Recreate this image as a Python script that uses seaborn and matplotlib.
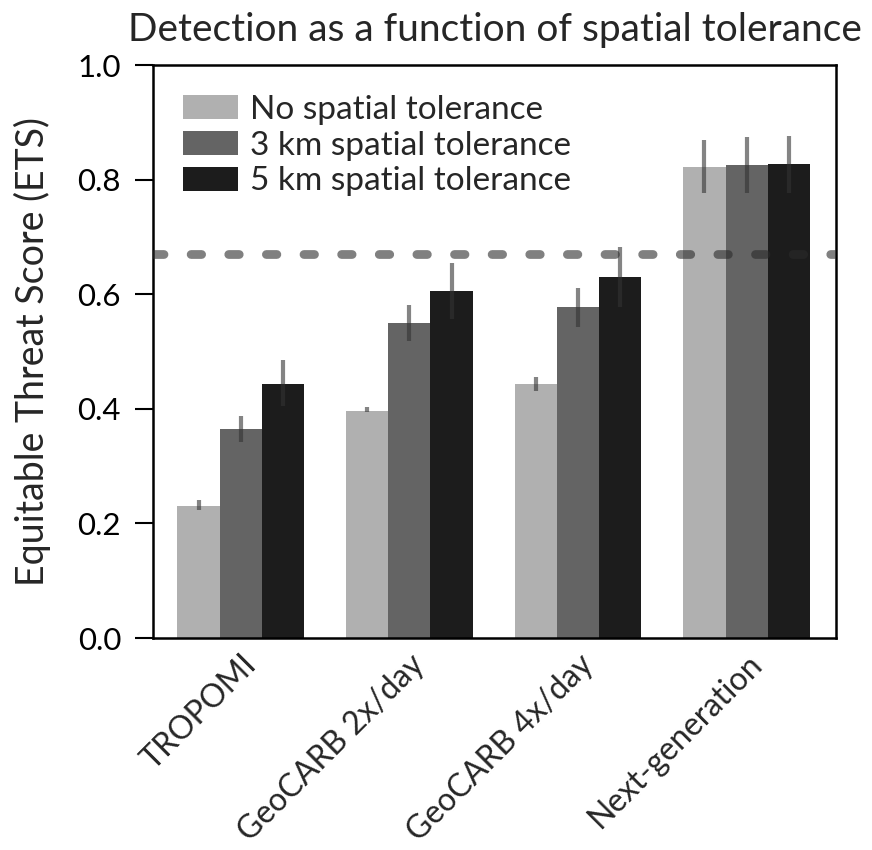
import numpy as np
import pandas as pd
import matplotlib
matplotlib.use("Agg")
import matplotlib.pyplot as plt
import seaborn as sns

# Dados
missions = ["TROPOMI", "GeoCARB 2x/day", "GeoCARB 4x/day", "Next-generation"]
tolerances = ["No spatial tolerance", "3 km spatial tolerance", "5 km spatial tolerance"]

ets_none = [0.230, 0.397, 0.443, 0.822]
ets_3km = [0.364, 0.550, 0.578, 0.825]
ets_5km = [0.444, 0.605, 0.630, 0.828]

lo_none = [0.223, 0.394, 0.431, 0.777]
hi_none = [0.240, 0.403, 0.455, 0.870]
lo_3km = [0.342, 0.519, 0.543, 0.777]
hi_3km = [0.388, 0.581, 0.611, 0.874]
lo_5km = [0.405, 0.557, 0.578, 0.777]
hi_5km = [0.485, 0.655, 0.682, 0.876]

threshold = 0.670

colors = ["#b0b0b0", "#646464", "#1c1c1c"]

sns.set_theme(style="ticks")
plt.rcParams['font.family'] = ['Lato', 'DejaVu Sans']

df = pd.DataFrame({
    "mission": missions * 3,
    "tolerance": [t for t in tolerances for _ in missions],
    "ets": ets_none + ets_3km + ets_5km,
    "lo": lo_none + lo_3km + lo_5km,
    "hi": hi_none + hi_3km + hi_5km,
})

fig = plt.figure(figsize=(8.72, 8.5), dpi=100)
ax = fig.add_axes([0.1755, 0.2494, 0.7832, 0.6741])

sns.barplot(data=df, x="mission", y="ets", hue="tolerance", order=missions,
            hue_order=tolerances, palette=colors, errorbar=None, width=0.75,
            saturation=1, linewidth=0, ax=ax)

# Barras de erro (intervalos) centradas em cada barra
for i, tol in enumerate(tolerances):
    cont = ax.containers[i]
    sub = df[df["tolerance"] == tol].set_index("mission").loc[missions]
    xs = [p.get_x() + p.get_width() / 2 for p in cont.patches]
    ax.vlines(xs, sub["lo"].values, sub["hi"].values, colors="#333333",
              alpha=0.6, linewidth=3.0, zorder=3)

# Linha tracejada de referência
ax.axhline(threshold, color="#2b2b2b", linewidth=6.3, linestyle=(0, (1.2, 3.1)),
           dash_capstyle="round", alpha=0.6, zorder=4)

ax.set_ylim(0, 1.0)
ax.set_xlim(-0.52, 3.53)
ax.set_yticks([0.0, 0.2, 0.4, 0.6, 0.8, 1.0])
ax.set_yticklabels(["0.0", "0.2", "0.4", "0.6", "0.8", "1.0"])
ax.tick_params(axis="y", length=13, width=1.5, labelsize=22.5, pad=10, colors="black")
ax.tick_params(axis="x", length=0, labelsize=23, pad=8)
plt.setp(ax.get_xticklabels(), rotation=45, ha="right", rotation_mode="anchor")
for s in ax.spines.values():
    s.set_linewidth(1.8)
    s.set_color("black")

ax.set_xlabel("")
ax.set_ylabel("Equitable Threat Score (ETS)", fontsize=27, labelpad=19)
ax.set_title("Detection as a function of spatial tolerance", fontsize=28, pad=17)

ax.legend(loc="upper left", frameon=False, fontsize=24, handlelength=1.65,
          handleheight=0.72, handletextpad=0.35, labelspacing=0.17,
          borderaxespad=0.5, bbox_to_anchor=(0.0, 1.0))

fig.savefig("out.png", dpi=100)
